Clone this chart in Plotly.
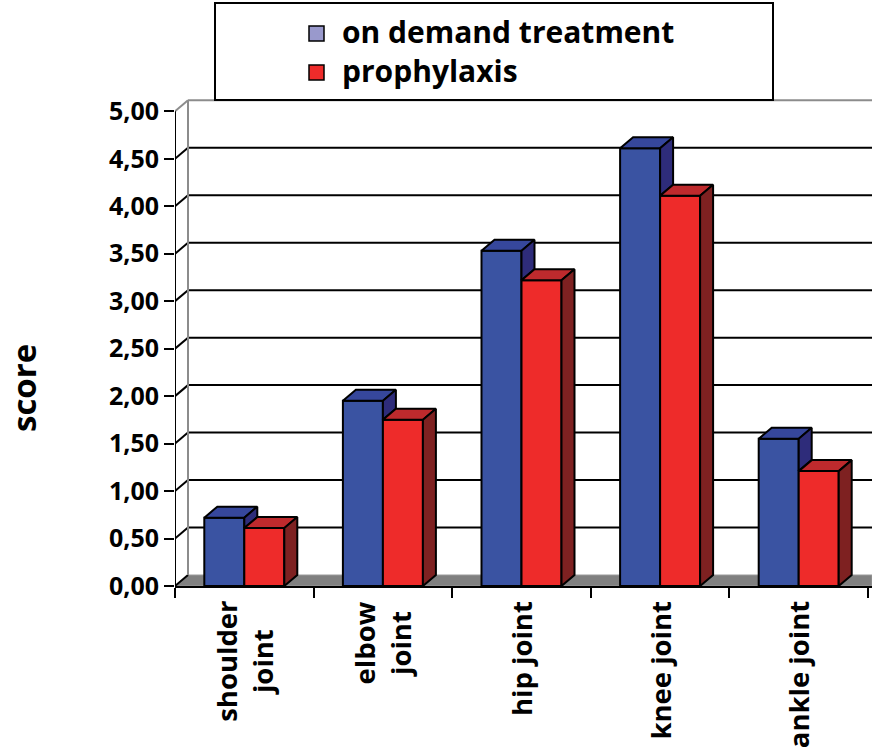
import plotly.graph_objects as go

# Joint scores by treatment regimen
joints = ["shoulder<br>joint", "elbow<br>joint", "hip joint", "knee joint", "ankle joint"]
on_demand = [0.72, 1.95, 3.53, 4.61, 1.55]
prophylaxis = [0.61, 1.75, 3.22, 4.11, 1.21]
y_ticks = [0.0, 0.5, 1.0, 1.5, 2.0, 2.5, 3.0, 3.5, 4.0, 4.5, 5.0]
series_names = ["on demand treatment", "prophylaxis"]

# styling
FONT = "Open Sans"
BLUE_FRONT, BLUE_TOP, BLUE_SIDE = "#3A53A2", "#36479C", "#2E2C7A"
RED_FRONT, RED_TOP, RED_SIDE = "#EE2B2A", "#BE2A2D", "#7E2121"
SWATCH = ["#9999CC", "#EE2B2A"]
WALL = "#8C8C8C"
FLOOR = "#808080"

W, H = 872, 747
ML, MR, MT, MB = 175, 0, 98, 161
Y_MAX = 5.14
n = len(joints)
x_lo = -0.5
px_per_cat = 138.6
x_hi = x_lo + (W - ML - MR) / px_per_cat
plot_w, plot_h = W - ML - MR, H - MT - MB
px_per_unit = plot_h / Y_MAX

# depth offset of the 3-D projection, in data units
DX = 13 / px_per_cat
DY = 11 / px_per_unit
BW = 40 / px_per_cat  # bar width


def paper_x(px):
    return (px - ML) / plot_w


def paper_y(py):
    return (H - MB - py) / plot_h


centers = list(range(n))
y_top = y_ticks[-1]

fig = go.Figure()

# front faces
fig.add_trace(go.Bar(x=centers, y=on_demand, width=BW, offset=-BW,
                     marker=dict(color=BLUE_FRONT, line=dict(color="black", width=2)),
                     showlegend=False, name=series_names[0]))
fig.add_trace(go.Bar(x=centers, y=prophylaxis, width=BW, offset=0,
                     marker=dict(color=RED_FRONT, line=dict(color="black", width=2)),
                     showlegend=False, name=series_names[1]))


def polys(faces):
    xs, ys = [], []
    for pts in faces:
        for (px, py) in pts + [pts[0]]:
            xs.append(px)
            ys.append(py)
        xs.append(None)
        ys.append(None)
    return xs, ys


def top_face(x0, x1, v):
    return [(x0, v), (x1, v), (x1 + DX, v + DY), (x0 + DX, v + DY)]


def side_face(x1, v0, v):
    return [(x1, v0), (x1, v), (x1 + DX, v + DY), (x1 + DX, v0 + DY)]


blue_tops, blue_sides, red_tops, red_sides = [], [], [], []
for c, b, r in zip(centers, on_demand, prophylaxis):
    bx0, bx1 = c - BW, c
    rx0, rx1 = c, c + BW
    blue_tops.append(top_face(bx0, bx1, b))
    if b > r:
        # only the part of the blue side above the red bar is visible
        blue_sides.append(side_face(bx1, r, b))
    red_tops.append(top_face(rx0, rx1, r))
    red_sides.append(side_face(rx1, 0, r))

for faces, col in [(blue_tops, BLUE_TOP), (blue_sides, BLUE_SIDE),
                   (red_tops, RED_TOP), (red_sides, RED_SIDE)]:
    xs, ys = polys(faces)
    fig.add_trace(go.Scatter(x=xs, y=ys, mode="lines", fill="toself", fillcolor=col,
                             line=dict(color="black", width=2), hoverinfo="skip",
                             showlegend=False))

shapes = []
# floor
shapes.append(dict(type="path", layer="below", xref="x", yref="y",
                   path=f"M {x_lo},0 L {x_hi},0 L {x_hi},{DY} L {x_lo + DX},{DY} Z",
                   fillcolor=FLOOR, line=dict(color="#9A9A9A", width=1)))
# back-wall gridlines and side-wall diagonals
for v in y_ticks:
    if v == 0:
        shapes.append(dict(type="line", layer="below", xref="x", yref="y",
                           x0=x_lo, y0=0, x1=x_lo + DX, y1=DY,
                           line=dict(color="black", width=2)))
        continue
    col = WALL if v == y_top else "black"
    shapes.append(dict(type="line", layer="below", xref="x", yref="y",
                       x0=x_lo + DX, y0=v + DY, x1=x_hi, y1=v + DY,
                       line=dict(color=col, width=2)))
    shapes.append(dict(type="line", layer="below", xref="x", yref="y",
                       x0=x_lo, y0=v, x1=x_lo + DX, y1=v + DY,
                       line=dict(color=col, width=2)))
# back-wall left edge
shapes.append(dict(type="line", layer="below", xref="x", yref="y",
                   x0=x_lo + DX, y0=DY, x1=x_lo + DX, y1=y_top + DY,
                   line=dict(color=WALL, width=2)))
# front value axis
shapes.append(dict(type="line", layer="above", xref="x", yref="y",
                   x0=x_lo, y0=0, x1=x_lo, y1=y_top,
                   line=dict(color="black", width=2)))

# legend: frame, swatches and one two-line label block
LEG_FONT = 30
LEG_CENTER = 51
line_gap = LEG_FONT * 1.3
shapes.append(dict(type="rect", layer="above", xref="paper", yref="paper",
                   x0=paper_x(215), x1=paper_x(773), y0=paper_y(100), y1=paper_y(3),
                   fillcolor="white", line=dict(color="black", width=2)))
for i, col in enumerate(SWATCH):
    yc = LEG_CENTER + (i - 0.5) * line_gap + 2
    shapes.append(dict(type="rect", layer="above", xref="paper", yref="paper",
                       x0=paper_x(309), x1=paper_x(324), y0=paper_y(yc + 7.5), y1=paper_y(yc - 7.5),
                       fillcolor=col, line=dict(color="black", width=1.5)))
annotations = [dict(text="<br>".join(series_names), xref="paper", yref="paper",
                    x=paper_x(340), y=paper_y(LEG_CENTER), xanchor="left", yanchor="middle",
                    align="left", showarrow=False,
                    font=dict(family=FONT, size=LEG_FONT, color="black", weight="bold"))]

# category labels under the axis
for c, lab in zip(centers, joints):
    annotations.append(dict(text=lab, xref="x", yref="paper", x=c, y=paper_y(599),
                            xanchor="center", yanchor="top", textangle=-90, align="center",
                            showarrow=False,
                            font=dict(family=FONT, size=27.5, color="black", weight="bold")))

# value-axis title
annotations.append(dict(text="score", xref="paper", yref="paper",
                        x=paper_x(24), y=paper_y(388), xanchor="center", yanchor="middle",
                        textangle=-90, showarrow=False,
                        font=dict(family=FONT, size=33, color="black", weight="bold")))

fig.update_layout(
    width=W, height=H,
    margin=dict(l=ML, r=MR, t=MT, b=MB, autoexpand=False),
    paper_bgcolor="white", plot_bgcolor="white",
    barmode="overlay",
    separators=",.",
    font=dict(family=FONT, color="black"),
    shapes=shapes,
    annotations=annotations,
    showlegend=False,
    xaxis=dict(range=[x_lo, x_hi], tickmode="array", tickvals=centers,
               showticklabels=False, ticks="", ticklen=0,
               showgrid=False, zeroline=False, showline=True, linecolor="black", linewidth=2,
               minor=dict(tickmode="array", tickvals=[c - 0.5 for c in centers] + [n - 0.5],
                          ticks="outside", ticklen=10, tickwidth=2, tickcolor="black",
                          showgrid=False),
               automargin=False, fixedrange=True),
    yaxis=dict(range=[0, Y_MAX], tickmode="array", tickvals=y_ticks, tickformat=".2f",
               ticks="outside", ticklen=10, tickwidth=2, tickcolor="black",
               tickfont=dict(family=FONT, size=25, color="black", weight="bold"),
               showgrid=False, zeroline=False, showline=False,
               automargin=False, fixedrange=True),
)

fig.write_html("out.html")
